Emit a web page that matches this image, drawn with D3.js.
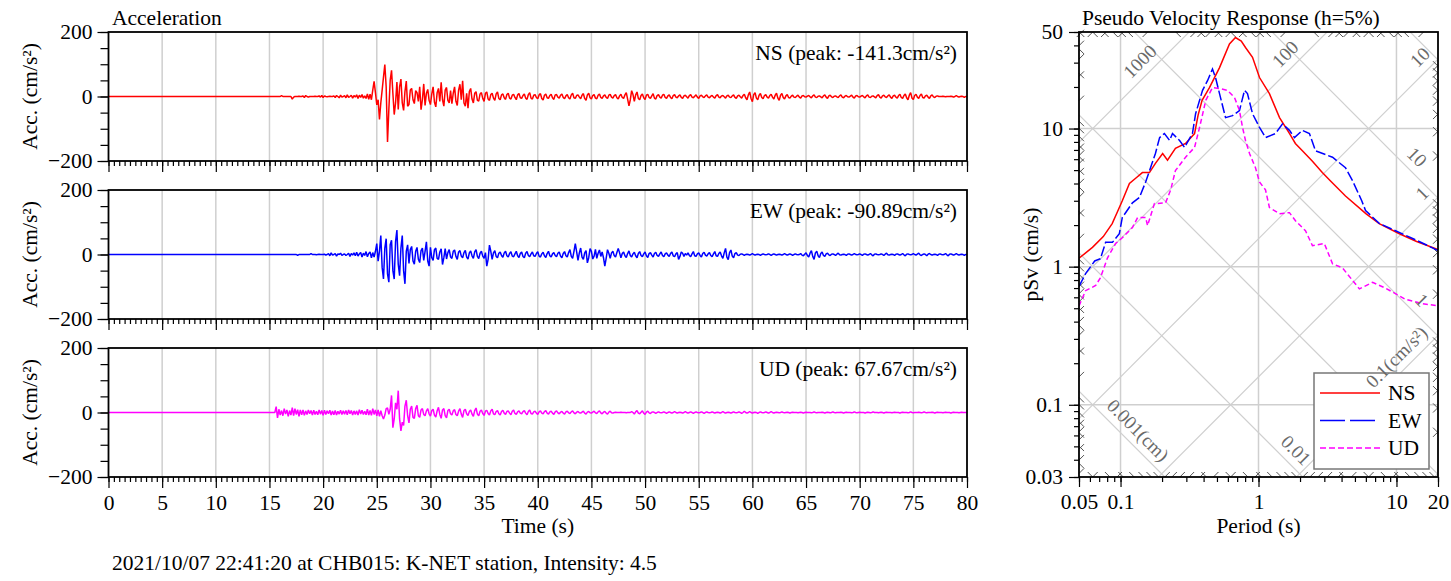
<!DOCTYPE html>
<html>
<head>
<meta charset="utf-8">
<script src="https://cdn.jsdelivr.net/npm/d3@7"></script>
<style>
  html, body { margin: 0; padding: 0; background: #fff; }
  svg { display: block; font-family: "Liberation Serif", "Times New Roman", serif; }
</style>
</head>
<body>
<svg id="chart" width="1451" height="581"></svg>
<script>
// ---------------- data ----------------
const components = ["NS", "EW", "UD"];
const componentColors = ["#ff0000", "#0000ff", "#ff00ff"];
const peakLabels = ["NS (peak: -141.3cm/s²)", "EW (peak: -90.89cm/s²)", "UD (peak: 67.67cm/s²)"];
const eventCaption = "2021/10/07 22:41:20 at CHB015: K-NET station, Intensity: 4.5";

// acceleration records (cm/s²), one row per second, 0.125 s apart, from 15 s; zero before that
const recordStart = 15;
const sampleStep = 0.125;
const nsAcc = [
  0,0,0,0,0,0,0,0,            0,3,0,0,0,0,0,0,            0,-8,-2,0,0,0,1,0,          0,2,-3,3,0,-2,0,0,
  0,0,1,0,0,2,-2,3,           -3,2,0,-1,0,1,0,0,          2,-3,3,0,-4,4,-2,0,         3,-4,5,-3,0,4,-5,3,
  -2,5,-6,4,-3,6,-5,2,        -6,8,-9,7,-10,20,47,12,     -26,-10,-71,-20,20,60,99,30,
  -141.3,-40,50,81,10,-56,-20,45,                         -40,30,54,-20,-43,15,48,-30,
  -25,20,25,-10,-22,18,12,-15,  30,-41,-10,39,-28,10,22,-12,  -25,8,30,-18,-32,12,25,-15,
  44,-10,-30,20,28,-12,-20,18,  -22,10,30,-15,-28,20,38,-10,  49,-20,-30,10,-36,15,25,-8,
  -20,10,15,-12,-14,8,12,-6,  -15,10,14,-8,-12,6,10,-5,   -12,8,14,-6,-10,5,8,-4,     -9,6,10,-5,-8,4,7,-3,
  -10,5,9,-4,-6,3,8,-5,       -9,6,12,-5,-8,4,6,-3,       -7,5,9,-6,-11,4,8,-4,       -6,3,7,-4,-9,5,6,-2,
  -5,4,8,-3,-7,2,6,-4,        -8,5,10,-4,-6,3,5,-2,       -7,4,9,-6,-12,5,10,-4,      -8,3,6,-5,-7,4,8,-3,
  -6,2,5,-3,-6,4,7,-2,        -5,3,6,-4,-8,2,7,-3,        -6,5,12,-8,-29,-10,18,6,    -15,5,14,-6,-10,3,8,-4,
  -9,4,7,-3,-6,2,9,-5,        -8,3,6,-2,-5,4,7,-3,        -6,2,5,-3,-7,3,6,-2,        -4,2,5,-3,-6,2,4,-1,
  -5,3,6,-2,-4,1,5,-2,        -6,2,4,-1,-3,2,5,-2,        -4,1,3,-2,-5,3,6,-2,        -4,2,3,-1,-5,2,4,-2,
  -3,2,5,-3,-6,2,4,-1,        -5,3,7,-4,-10,5,14,-6,      -16,6,12,-5,-10,4,9,-3,     -7,3,6,-2,-5,3,7,-2,
  -8,4,10,-5,-12,4,9,-3,      -8,2,6,-3,-5,1,4,-2,        -3,1,4,-2,-5,2,3,-1,        -2,1,3,-1,-4,2,5,-2,
  -3,1,2,-1,-4,2,5,-2,        -6,2,4,-1,-3,1,2,-1,        -3,2,5,-2,-4,1,3,-1,        -2,1,4,-2,-5,2,3,-1,
  -2,1,3,-1,-4,2,5,-2,        -3,1,2,-1,-4,3,6,-2,        -5,2,4,-1,-3,2,5,-2,        -6,2,4,-2,-5,3,7,-3,
  -6,3,8,-4,-10,4,12,-5,      -9,3,7,-2,-6,3,8,-3,        -5,2,4,-2,-6,2,5,-1,        -3,1,2,0,0,0,1,0,
  -1,0,0,0,1,0,-2,0,          3,0,-2,0,1,0,-3,0,
  0
];
const ewAcc = [
  0,0,0,0,0,0,0,0,            0,0,0,0,0,0,0,0,            0,0,0,0,0,-3,0,0,           0,0,0,0,0,0,0,3,
  0,0,0,-1,0,1,0,0,           0,1,-2,0,3,-4,5,-2,         0,3,-5,2,0,4,-3,0,          2,-3,0,4,-6,3,-2,5,
  -4,7,-5,2,6,-8,4,-3,        9,-7,3,8,-10,6,-8,10,       34,-21,10,59,-40,-76,20,49,
  -60,-86,30,44,-50,-76,40,76,  -30,-66,20,59,-50,-90.89,10,30,
  -28,15,25,-20,-30,10,22,-15,  -25,12,20,-18,10,39,-20,-36,  22,-10,-18,15,20,-12,-15,8,
  18,-31,-10,18,-14,6,15,-8,  -12,10,14,-6,-15,8,12,-5,   -10,6,13,-8,-14,5,11,-4,    -12,8,15,-6,-13,4,10,-5,
  -12,6,-36,-15,29,10,-15,5,  12,-6,-10,4,8,-3,-9,5,      10,-4,-8,3,9,-5,-7,2,       10,-4,-9,3,8,-6,-10,4,
  9,-3,-7,2,8,-4,-6,3,        9,-5,-8,2,7,-4,-9,3,        10,-4,-8,2,6,-3,-7,4,       8,-5,-10,3,9,-4,-8,6,
  15,-6,-12,10,34,8,-18,5,    20,-8,-15,5,12,-26,-10,18,  10,-14,-5,16,-12,4,14,-6,   8,-10,-36,-12,15,4,-12,5,
  10,-3,-8,6,19,5,-10,3,      8,-4,-9,3,11,-3,-8,2,       7,-4,-10,3,9,-3,-7,2,       8,-4,-9,3,6,-2,-8,3,
  7,-3,-6,2,8,-3,-7,2,        5,-2,-6,3,8,-4,-7,2,        6,-15,-6,8,4,-6,3,-2,       5,-3,-7,2,9,-4,-6,2,
  5,-3,-8,3,7,-2,-5,2,        6,-3,-7,2,9,-4,-6,3,        8,-4,-12,5,19,-8,-16,6,     14,-5,-10,3,6,-2,-3,1,
  2,0,-3,0,1,0,-2,0,          3,0,-2,0,1,0,-3,0,          2,0,-1,0,2,0,-3,0,          2,0,-2,0,1,0,-2,0,
  3,0,-2,0,2,0,-3,0,          2,0,-1,0,3,-2,-4,1,         5,-3,-8,4,12,-6,-15,5,      10,-4,-9,3,8,-3,-6,2,
  4,-1,-3,1,2,0,-3,1,         4,-1,-2,0,1,0,-3,1,         2,0,-2,0,3,0,-1,0,          2,0,-3,1,2,0,-2,0,
  3,-1,-4,1,2,0,-1,0,         2,0,-3,1,4,-1,-2,0,         1,0,-3,1,2,0,-2,0,          3,-1,-4,1,2,0,-1,0,
  3,0,-2,1,4,-1,-3,0,         2,0,-4,1,3,0,-2,0,          1,0,-3,1,2,0,-1,0,          3,-1,-4,1,2,0,-2,0,
  3,0,-2,0,1,0,-3,0,
  0
];
const udAcc = [
  0,0,0,0,0,18,-17,10,        -8,6,-10,12,-5,8,-12,6,     -8,15,-10,12,-6,9,-12,8,    -7,8,-9,5,-6,8,-4,6,
  -8,7,-6,4,-7,8,-5,6,        -9,7,-6,5,-4,7,-8,5,        -7,6,-8,4,-5,7,-6,5,        -5,6,-7,8,-4,6,-8,5,
  -6,5,-8,9,-5,7,-6,4,        -7,10,-8,6,-9,12,-6,8,      -10,8,-12,6,-10,-20,-8,12,  14,-6,10,53,-47,-20,30,10,
  67.67,-20,-57,-30,-40,20,38,-10,                        -32,10,20,-15,-18,12,22,-10,
  -15,8,12,-6,-10,5,12,-4,    -11,6,10,-8,-14,5,16,-6,    -18,8,12,-10,-17,6,10,-4,   -8,5,9,-6,-10,4,12,-5,
  -15,6,10,-4,-9,3,8,-5,      -12,6,14,-5,-10,4,8,-3,     -9,4,7,-3,-8,5,10,-4,       -7,3,6,-4,-8,3,7,-2,
  -6,3,5,-2,-7,4,8,-3,        -6,2,5,-2,-4,3,6,-2,        -7,3,8,-3,-5,2,4,-2,        -6,2,5,-2,-4,3,6,-2,
  -5,2,4,-2,-6,2,5,-1,        -4,1,3,-2,-5,2,4,-1,        -3,2,5,-1,-4,1,3,-1,        -2,1,4,-2,-5,1,3,-1,
  -2,1,4,-1,-3,2,5,-1,        -4,1,3,-2,-5,1,4,-1,        -2,0,1,0,0,0,1,0,           0,0,-1,0,0,0,3,0,
  -5,2,6,-2,-4,1,5,-2,        -6,1,4,-1,-3,1,2,0,         -3,0,2,0,-1,0,2,0,          -3,0,2,0,-2,0,3,0,
  -2,0,1,0,-2,0,3,0,          -2,0,2,0,-3,0,2,0,          -1,0,2,0,-3,0,2,0,          -1,0,2,0,-2,0,1,0,
  -2,0,3,0,-2,0,1,0,          -2,0,2,0,-1,0,2,0,          -3,0,4,0,-2,0,3,0,          -2,0,1,0,-3,0,2,0,
  -1,0,2,0,-2,0,3,0,          -2,0,1,0,-1,0,2,0,          -1,0,1,0,-2,0,1,0,          0,0,-1,0,1,0,-2,0,
  1,0,0,0,-1,0,2,0,           -1,0,0,0,1,0,-2,0,          1,0,-1,0,2,0,-1,0,          0,0,1,0,-2,0,1,0,
  0,0,-1,0,2,0,-1,0,          1,0,0,0,-2,0,1,0,           -1,0,2,0,0,0,-1,0,          1,0,-2,0,1,0,0,0,
  -1,0,1,0,0,0,-2,0,          1,0,0,0,-1,0,2,0,           -1,0,0,0,1,0,-1,0,          2,0,-1,0,0,0,1,0,
  -2,0,1,0,0,0,-1,0,          1,0,0,0,-2,0,1,0,           0,0,-1,0,1,0,0,0,
  0
];

const timeTicks = [0, 5, 10, 15, 20, 25, 30, 35, 40, 45, 50, 55, 60, 65, 70, 75, 80];
const accTicks = [-200, 0, 200];

// pseudo velocity response spectra, h = 5% (period s, pSv cm/s)
const nsPeriod = [0.05, 0.0626, 0.075, 0.087, 0.095, 0.103, 0.116, 0.13, 0.144, 0.162, 0.179, 0.202, 0.219, 0.25, 0.296, 0.344, 0.365, 0.39, 0.441, 0.522, 0.616, 0.681, 0.75, 0.805, 0.905, 1.017, 1.2, 1.42, 1.68, 1.85, 2.08, 2.46, 2.9, 3.3, 4.27, 6.0, 7.5, 10.5, 14, 20];
const nsPsv    = [1.15, 1.38, 1.65, 2.05, 2.5, 3.0, 4.0, 4.4, 4.8, 4.8, 5.6, 6.6, 5.9, 7.2, 7.8, 9.2, 12.5, 16, 19.8, 27.6, 41, 45.6, 43, 38.6, 32.8, 23.4, 17.9, 12, 9.2, 7.8, 6.9, 5.8, 4.8, 4.2, 3.25, 2.42, 2.05, 1.73, 1.52, 1.33];
const ewPeriod = [0.05, 0.0558, 0.065, 0.0714, 0.078, 0.0874, 0.098, 0.103, 0.122, 0.137, 0.152, 0.165, 0.179, 0.192, 0.208, 0.227, 0.238, 0.268, 0.291, 0.332, 0.35, 0.393, 0.427, 0.464, 0.488, 0.53, 0.577, 0.648, 0.728, 0.792, 0.832, 0.905, 1.017, 1.124, 1.328, 1.493, 1.677, 1.823, 2.08, 2.34, 2.59, 3.44, 4.27, 4.8, 5.6, 5.97, 7.53, 9.84, 13.1, 20];
const ewPsv    = [0.72, 0.89, 1.1, 1.14, 1.5, 1.5, 1.73, 2.27, 2.9, 3.17, 4.1, 5.2, 6.6, 8.6, 9.2, 8.2, 9.2, 8.2, 7.3, 9.2, 12.8, 18.9, 22.2, 27, 23.4, 16.8, 12, 12.4, 13.5, 18.9, 17.9, 12.8, 10.2, 8.6, 9.2, 10.8, 9.7, 8.6, 9.7, 9.2, 6.9, 6.2, 5.2, 4.2, 3.0, 2.55, 2.05, 1.82, 1.6, 1.31];
const udPeriod = [0.05, 0.0558, 0.066, 0.0714, 0.0805, 0.0921, 0.103, 0.122, 0.133, 0.152, 0.157, 0.176, 0.212, 0.231, 0.25, 0.296, 0.344, 0.374, 0.415, 0.464, 0.522, 0.596, 0.67, 0.728, 0.766, 0.805, 0.861, 0.951, 1.017, 1.124, 1.2, 1.42, 1.677, 1.853, 2.19, 2.46, 3.0, 3.44, 4.06, 5.39, 6.71, 8.32, 11.6, 15.4, 20];
const udPsv    = [0.52, 0.67, 0.73, 0.83, 1.16, 1.47, 1.62, 1.92, 2.27, 2.27, 1.98, 2.86, 2.9, 3.6, 4.96, 6.2, 7.3, 10.2, 16, 19.8, 19.5, 18.9, 16.8, 13.5, 10.2, 8.2, 6.6, 5.2, 4.1, 3.6, 2.68, 2.42, 2.46, 2.15, 1.82, 1.42, 1.47, 1.05, 0.98, 0.69, 0.77, 0.70, 0.58, 0.54, 0.52];

const periodTicks = [0.05, 0.1, 1, 10, 20];
const psvTicks = [0.03, 0.1, 1, 10, 50];
// tripartite guide lines: constant pseudo acceleration (cm/s²) and displacement (cm)
const accelGuides = [0.01, 0.1, 1, 10, 100, 1000, 10000];
const dispGuides = [0.0001, 0.001, 0.01, 0.1, 1, 10, 100, 1000];

// ---------------- drawing ----------------
const svg = d3.select("#chart");
const FONT = 21.5;
const gridColor = "#cfcfcf";

// ---- acceleration panels ----
const accLeft = 108.5, accRight = 967;
const panelTops = [32, 190, 348];
const panelH = 129;
const xTime = d3.scaleLinear().domain([0, 80]).range([accLeft, accRight]);
const records = [nsAcc, ewAcc, udAcc];

svg.append("defs").append("clipPath").attr("id", "accClip")
  .append("rect").attr("x", accLeft).attr("y", 0).attr("width", accRight - accLeft).attr("height", 581);

svg.append("text").attr("x", 112).attr("y", 25).attr("font-size", FONT).text("Acceleration");

function styleAxis(a) {
  a.select(".domain").remove();
  a.selectAll("line").attr("stroke", "#000").attr("stroke-width", 1.2);
  a.selectAll("text").attr("font-size", FONT).attr("font-family", "Liberation Serif").attr("fill", "#000");
}

components.forEach((comp, i) => {
  const top = panelTops[i];
  const yAcc = d3.scaleLinear().domain([-200, 200]).range([top + panelH, top]);
  const g = svg.append("g");

  // vertical grid every 5 s
  g.append("g").selectAll("line").data(timeTicks.filter(t => t > 0 && t < 80)).join("line")
    .attr("x1", d => xTime(d)).attr("x2", d => xTime(d))
    .attr("y1", top).attr("y2", top + panelH)
    .attr("stroke", gridColor).attr("stroke-width", 1.5);

  // trace
  const pts = [{ t: 0, a: 0 }].concat(records[i].map((a, k) => ({ t: recordStart + k * sampleStep, a })));
  g.append("path").datum(pts)
    .attr("clip-path", "url(#accClip)")
    .attr("fill", "none").attr("stroke", componentColors[i]).attr("stroke-width", 1.5)
    .attr("stroke-linejoin", "bevel")
    .attr("d", d3.line().x(d => xTime(d.t)).y(d => yAcc(d.a)));

  // y axis: minor ticks every 50, labelled majors
  const yMinor = d3.axisLeft(yAcc).tickValues(d3.range(-200, 201, 50)).tickSize(8).tickSizeOuter(0).tickFormat("");
  const yMajor = d3.axisLeft(yAcc).tickValues(accTicks).tickSize(11).tickSizeOuter(0).tickPadding(5).tickFormat(d3.format("d"));
  [yMinor, yMajor].forEach(ax => styleAxis(g.append("g").attr("transform", `translate(${accLeft},0)`).call(ax)));

  // x axis ticks: minor every 0.5 s, major every 5 s
  const xMinor = d3.axisBottom(xTime).tickValues(d3.range(0, 80.01, 0.5)).tickSize(5).tickSizeOuter(0).tickFormat("");
  const xMajor = d3.axisBottom(xTime).tickValues(timeTicks).tickSize(11).tickSizeOuter(0).tickPadding(7)
    .tickFormat(i === 2 ? d3.format("d") : "");
  [xMinor, xMajor].forEach(ax => styleAxis(g.append("g").attr("transform", `translate(0,${top + panelH})`).call(ax)));

  // frame
  g.append("rect").attr("x", accLeft).attr("y", top).attr("width", accRight - accLeft).attr("height", panelH)
    .attr("fill", "none").attr("stroke", "#000").attr("stroke-width", 1.8);

  // peak annotation
  g.append("text").attr("x", 957).attr("y", top + 28).attr("text-anchor", "end")
    .attr("font-size", FONT).text(peakLabels[i]);

  // y label
  g.append("text").attr("transform", `translate(37,${top + panelH / 2}) rotate(-90)`)
    .attr("text-anchor", "middle").attr("font-size", FONT).text("Acc. (cm/s²)");
});

svg.append("text").attr("x", (accLeft + accRight) / 2).attr("y", 533).attr("text-anchor", "middle")
  .attr("font-size", FONT).text("Time (s)");
svg.append("text").attr("x", 112).attr("y", 570).attr("font-size", FONT).text(eventCaption);

// ---- pseudo velocity response panel ----
const pL = 1079, pR = 1438, pT = 32, pB = 477;
const xPer = d3.scaleLog().domain([0.05, 20]).range([pL, pR]);
const ySv = d3.scaleLog().domain([0.03, 50]).range([pB, pT]);
const TWO_PI = 2 * Math.PI;
const ps = svg.append("g");

ps.append("defs").append("clipPath").attr("id", "psvClip")
  .append("rect").attr("x", pL).attr("y", pT).attr("width", pR - pL).attr("height", pB - pT);

ps.append("text").attr("x", 1082).attr("y", 25).attr("font-size", FONT).text("Pseudo Velocity Response (h=5%)");

// orthogonal grid
ps.append("g").selectAll("line").data([0.1, 1, 10]).join("line")
  .attr("x1", d => xPer(d)).attr("x2", d => xPer(d)).attr("y1", pT).attr("y2", pB)
  .attr("stroke", gridColor).attr("stroke-width", 1.5);
ps.append("g").selectAll("line").data([0.1, 1, 10]).join("line")
  .attr("y1", d => ySv(d)).attr("y2", d => ySv(d)).attr("x1", pL).attr("x2", pR)
  .attr("stroke", gridColor).attr("stroke-width", 1.5);

// diagonal guides
const Tmin = 0.05, Tmax = 20;
const accLine = a => [[Tmin, a * Tmin / TWO_PI], [Tmax, a * Tmax / TWO_PI]];
const dispLine = s => [[Tmin, TWO_PI * s / Tmin], [Tmax, TWO_PI * s / Tmax]];
const diag = ps.append("g").attr("clip-path", "url(#psvClip)");
accelGuides.map(accLine).concat(dispGuides.map(dispLine)).forEach(seg => {
  diag.append("line")
    .attr("x1", xPer(seg[0][0])).attr("y1", ySv(seg[0][1]))
    .attr("x2", xPer(seg[1][0])).attr("y2", ySv(seg[1][1]))
    .attr("stroke", gridColor).attr("stroke-width", 1.2);
});

// short diagonal ticks at the frame for intermediate guide values
const minorTicks = ps.append("g");
function borderHits(kind, v) {
  const sv = T => kind === "a" ? v * T / TWO_PI : TWO_PI * v / T;
  const tAt = S => kind === "a" ? S * TWO_PI / v : TWO_PI * v / S;
  const hits = [];
  const sLeft = sv(Tmin), sRight = sv(Tmax);
  if (sLeft >= 0.03 && sLeft <= 50) hits.push([xPer(Tmin), ySv(sLeft), "L"]);
  if (sRight >= 0.03 && sRight <= 50) hits.push([xPer(Tmax), ySv(sRight), "R"]);
  const tTop = tAt(50), tBot = tAt(0.03);
  if (tTop >= Tmin && tTop <= Tmax) hits.push([xPer(tTop), ySv(50), "T"]);
  if (tBot >= Tmin && tBot <= Tmax) hits.push([xPer(tBot), ySv(0.03), "B"]);
  return hits.map(([x, y, side]) => {
    let dx, dy;
    if (kind === "a") {
      [dx, dy] = (side === "L" || side === "B") ? [1, -1] : [-1, 1];
    } else {
      [dx, dy] = (side === "L" || side === "T") ? [1, 1] : [-1, -1];
    }
    return { x, y, dx, dy };
  });
}
[-4, -3, -2, -1, 0, 1, 2, 3].forEach(p => {
  d3.range(2, 10).forEach(m => {
    ["a", "d"].forEach(kind => {
      const val = m * Math.pow(10, kind === "a" ? p + 1 : p);
      borderHits(kind, val).forEach(h => {
        minorTicks.append("line")
          .attr("x1", h.x).attr("y1", h.y)
          .attr("x2", h.x + h.dx * 5).attr("y2", h.y + h.dy * 5)
          .attr("stroke", "#555").attr("stroke-width", 1);
      });
    });
  });
});

// spectra
const spectra = [
  { p: nsPeriod, v: nsPsv, dash: null },
  { p: ewPeriod, v: ewPsv, dash: "10,3" },
  { p: udPeriod, v: udPsv, dash: "5,3" }
];
const specLine = d3.line().x(d => xPer(d[0])).y(d => ySv(d[1]));
const specG = ps.append("g").attr("clip-path", "url(#psvClip)");
spectra.forEach((s, i) => {
  specG.append("path").datum(d3.zip(s.p, s.v))
    .attr("fill", "none").attr("stroke", componentColors[i]).attr("stroke-width", 1.5)
    .attr("stroke-dasharray", s.dash).attr("d", specLine);
});

// axes
const decadeMinors = (lo, hi) => {
  const out = [];
  for (let e = -3; e <= 2; e++) for (let m = 1; m <= 9; m++) {
    const v = m * Math.pow(10, e);
    if (v >= lo * 0.999 && v <= hi * 1.001) out.push(v);
  }
  return out;
};
const yMinorP = d3.axisLeft(ySv).tickValues(decadeMinors(0.03, 50)).tickSize(5).tickSizeOuter(0).tickFormat("");
const yMajorP = d3.axisLeft(ySv).tickValues(psvTicks).tickSize(10).tickSizeOuter(0).tickPadding(6).tickFormat(d => String(d));
[yMinorP, yMajorP].forEach(ax => styleAxis(ps.append("g").attr("transform", `translate(${pL},0)`).call(ax)));
const xMinorP = d3.axisBottom(xPer).tickValues(decadeMinors(0.05, 20)).tickSize(5).tickSizeOuter(0).tickFormat("");
const xMajorP = d3.axisBottom(xPer).tickValues(periodTicks).tickSize(10).tickSizeOuter(0).tickPadding(7).tickFormat(d => String(d));
[xMinorP, xMajorP].forEach(ax => styleAxis(ps.append("g").attr("transform", `translate(0,${pB})`).call(ax)));

ps.append("rect").attr("x", pL).attr("y", pT).attr("width", pR - pL).attr("height", pB - pT)
  .attr("fill", "none").attr("stroke", "#000").attr("stroke-width", 1.8);

ps.append("text").attr("x", (pL + pR) / 2).attr("y", 533).attr("text-anchor", "middle")
  .attr("font-size", FONT).text("Period (s)");
ps.append("text").attr("transform", `translate(1038,${(pT + pB) / 2}) rotate(-90)`)
  .attr("text-anchor", "middle").attr("font-size", FONT).text("pSv (cm/s)");

// legend
const lg = ps.append("g");
lg.append("rect").attr("x", 1314).attr("y", 373).attr("width", 115).attr("height", 96)
  .attr("fill", "#fff").attr("stroke", "#777").attr("stroke-width", 1.5);
components.forEach((c, i) => {
  const y = 393 + i * 27.5;
  lg.append("line").attr("x1", 1320).attr("x2", 1380).attr("y1", y).attr("y2", y)
    .attr("stroke", componentColors[i]).attr("stroke-width", 1.5)
    .attr("stroke-dasharray", i === 1 ? "25,5" : i === 2 ? "6,3" : null);
  lg.append("text").attr("x", 1388).attr("y", y + 7).attr("font-size", FONT).text(c);
});

// guide labels, drawn last so they stay readable over the legend box
const guideLabelColor = "#6a6a6a";
const accLabelLayout = [
  { v: 1000, text: "1000", T: 0.138 },
  { v: 100, text: "100", T: 1.56 },
  { v: 10, text: "10", T: 14.8 },
  { v: 1, text: "1", T: 15.3 },
  { v: 0.1, text: "0.1(cm/s²)", T: 10.0 }
];
const dispLabelLayout = [
  { v: 0.001, text: "0.001(cm)", T: 0.134 },
  { v: 0.01, text: "0.01", T: 1.87 },
  { v: 1, text: "1", T: 15.3 },
  { v: 10, text: "10", T: 14.1 }
];
accLabelLayout.forEach(l => {
  const x = xPer(l.T), y = ySv(l.v * l.T / TWO_PI) - 20;
  ps.append("text").attr("transform", `translate(${x},${y}) rotate(-45)`)
    .attr("text-anchor", "middle").attr("dominant-baseline", "central")
    .attr("font-size", 19).attr("fill", guideLabelColor).text(l.text);
});
dispLabelLayout.forEach(l => {
  const x = xPer(l.T), y = ySv(TWO_PI * l.v / l.T) - 20;
  ps.append("text").attr("transform", `translate(${x},${y}) rotate(45)`)
    .attr("text-anchor", "middle").attr("dominant-baseline", "central")
    .attr("font-size", 19).attr("fill", guideLabelColor).text(l.text);
});
</script>
</body>
</html>
